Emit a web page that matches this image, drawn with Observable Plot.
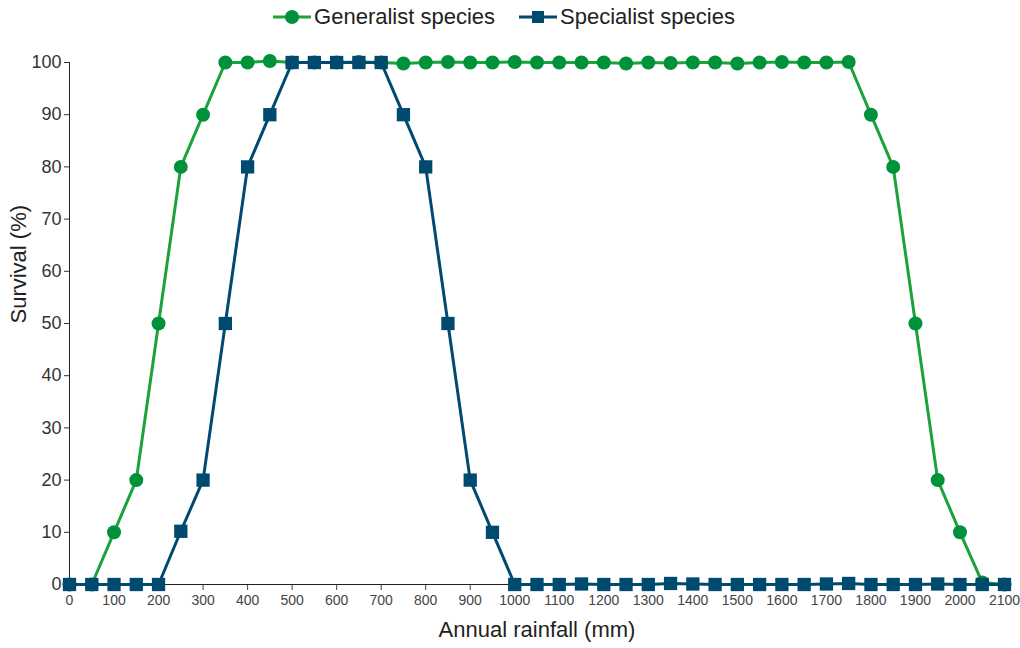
<!DOCTYPE html>
<html>
<head>
<meta charset="utf-8">
<script src="https://cdn.jsdelivr.net/npm/d3@7"></script>
<script src="https://cdn.jsdelivr.net/npm/@observablehq/plot@0.6"></script>
<style>
  body { margin: 0; background: #fff; font-family: "Liberation Sans", Arial, sans-serif; }
  #legend { height: 34px; display: flex; justify-content: center; align-items: center; gap: 24px; font-size: 22px; color: #222; padding-right: 12px; box-sizing: border-box; }
  .item { display: flex; align-items: center; gap: 3px; }
</style>
</head>
<body>
<div id="legend"></div>
<div id="chart"></div>
<script>
const rainfall = d3.range(0, 2101, 50);
const generalist = [0, 0, 10, 20, 50, 80, 90,
  100, 100, 100.3, 100, 100, 100, 100.1, 100, 99.8, 100, 100.1, 100, 100, 100.1, 100,
  100, 100, 100, 99.8, 100, 99.9, 100, 100, 99.8, 100, 100.1, 100, 100, 100.1,
  90, 80, 50, 20, 10, 0.4, 0];
const specialist = [0, 0, 0, 0, 0, 10.2, 20, 50, 80, 90,
  100, 100, 100, 100, 100, 90, 80, 50, 20, 10,
  0, 0, 0, 0.1, 0, 0, 0, 0.2, 0.1, 0, 0, 0, 0, 0, 0.1, 0.2, 0, 0, 0, 0.1, 0, 0, 0];
const seriesNames = ["Generalist species", "Specialist species"];
const lineColors = ["#1ba33b", "#004a70"];
const markColors = ["#00923a", "#004a70"];
const xTicks = d3.range(0, 2101, 100);
const yTicks = d3.range(0, 101, 10);

const gData = rainfall.map((x, i) => ({x, y: generalist[i]}));
const sData = rainfall.map((x, i) => ({x, y: specialist[i]}));

// legend
const legend = document.getElementById("legend");
seriesNames.forEach((name, i) => {
  const sym = i === 0
    ? `<circle cx="19" cy="10" r="7" fill="${markColors[i]}"/>`
    : `<rect x="13" y="4" width="12" height="12" fill="${markColors[i]}"/>`;
  legend.insertAdjacentHTML("beforeend",
    `<span class="item"><svg width="38" height="20"><line x1="0" x2="38" y1="10" y2="10" stroke="${lineColors[i]}" stroke-width="3"/>${sym}</svg><span>${name}</span></span>`);
});

const chart = Plot.plot({
  width: 1020,
  height: 614,
  marginTop: 28,
  marginBottom: 64,
  marginLeft: 69,
  marginRight: 16,
  style: {fontFamily: "Liberation Sans, Arial, sans-serif", background: "#fff"},
  x: {domain: [0, 2100]},
  y: {domain: [0, 100]},
  marks: [
    Plot.axisY({ticks: yTicks, tickSize: 5, tickPadding: 3, fontSize: 18, label: null, color: "#333"}),
    Plot.axisX({ticks: xTicks, tickSize: 6, tickPadding: 5, fontSize: 14, label: null, color: "#444", tickFormat: d => String(d)}),
    Plot.ruleY([0], {stroke: "#222", strokeWidth: 1}),
    Plot.ruleX([0], {stroke: "#222", strokeWidth: 1}),
    Plot.line(gData, {x: "x", y: "y", stroke: lineColors[0], strokeWidth: 3}),
    Plot.dot(gData, {x: "x", y: "y", r: 7, fill: markColors[0], symbol: "circle"}),
    Plot.line(sData, {x: "x", y: "y", stroke: lineColors[1], strokeWidth: 3}),
    Plot.dot(sData, {x: "x", y: "y", r: 7.5, fill: markColors[1], symbol: "square"}),
    Plot.text(["Survival (%)"], {frameAnchor: "left", dx: -51, rotate: -90, fontSize: 22, fill: "#222"}),
    Plot.text(["Annual rainfall (mm)"], {frameAnchor: "bottom", dy: 52, fontSize: 22, fill: "#222"})
  ]
});
document.getElementById("chart").appendChild(chart);
</script>
</body>
</html>
